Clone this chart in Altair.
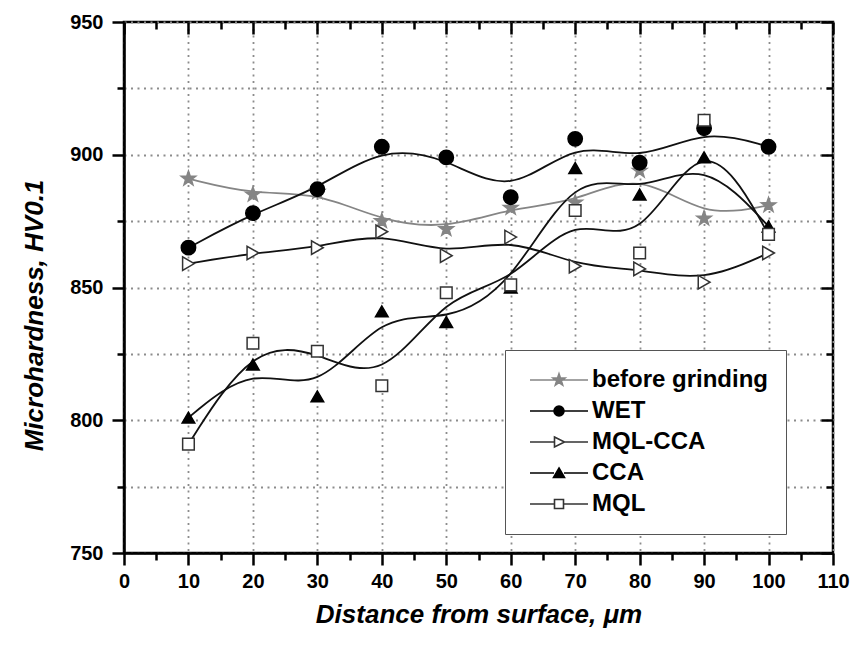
import altair as alt
import pandas as pd

# ---------------- data ----------------
distance = [10, 20, 30, 40, 50, 60, 70, 80, 90, 100]
series_names = ["before grinding", "WET", "MQL-CCA", "CCA", "MQL"]
before_grinding = [891, 885, 886, 875, 872, 880, 882, 894, 876, 881]
wet = [865, 878, 887, 903, 899, 884, 906, 897, 910, 903]
mql_cca = [859, 863, 865, 871, 862, 869, 858, 857, 852, 863]
cca = [801, 821, 809, 841, 837, 850, 895, 885, 899, 873]
mql = [791, 829, 826, 813, 848, 851, 879, 863, 913, 870]

x_ticks = list(range(0, 111, 5))
y_ticks = list(range(750, 951, 25))

values = [before_grinding, wet, mql_cca, cca, mql]
rows = []
for name, vals in zip(series_names, values):
    for d, v in zip(distance, vals):
        rows.append({"series": name, "distance": d, "hardness": v})
df = pd.DataFrame(rows)

# ---------------- styles ----------------
FONT = "Liberation Sans"
line_colors = ["#858585", "#111111", "#111111", "#111111", "#111111"]
fill_colors = ["#858585", "#000000", "#ffffff", "#000000", "#ffffff"]
edge_colors = ["#858585", "#000000", "#333333", "#000000", "#333333"]

STAR = ("M0,-1L0.235,-0.324L0.951,-0.309L0.380,0.124L0.588,0.809L0,0.4"
        "L-0.588,0.809L-0.380,0.124L-0.951,-0.309L-0.235,-0.324Z")
point_shapes = [STAR, "circle", "triangle-right", "triangle-up", "square"]
point_sizes = [230, 135, 140, 150, 115]

LEFT = "M-5.8,0L-1,0"
legend_shapes = [
    "M-5.8,0L5.8,0M0,-1.25L0.29,-0.4L1.19,-0.39L0.47,0.15L0.73,1.01L0,0.5"
    "L-0.73,1.01L-0.47,0.15L-1.19,-0.39L-0.29,-0.4Z",
    LEFT + "M1,0L5.8,0M1,0A1,1,0,1,1,-1,0A1,1,0,1,1,1,0Z",
    "M-5.8,0L-0.9,0M1.1,0L5.8,0M-0.9,-1L1.1,0L-0.9,1Z",
    LEFT + "M1,0L5.8,0M0,-1L1.1,0.9L-1.1,0.9Z",
    "M-5.8,0L-0.9,0M0.9,0L5.8,0M-0.9,-0.9L0.9,-0.9L0.9,0.9L-0.9,0.9Z",
]

xscale = alt.Scale(domain=[0, 110], nice=False, zero=False)
yscale = alt.Scale(domain=[750, 950], nice=False, zero=False)

base = alt.Chart(df)

x_main_axis = alt.Axis(
    values=x_ticks,
    labelExpr="datum.value % 10 === 0 ? datum.label : ''",
    tickSize={"condition": {"test": "datum.value % 10 === 0", "value": 12}, "value": 7},
    gridOpacity={"condition": {"test": "datum.value % 10 === 0", "value": 1}, "value": 0},
    grid=True, labelFlush=False, labelOverlap=False,
    title="Distance from surface, μm", titlePadding=10,
    labelPadding=6,
)
y_main_axis = alt.Axis(
    values=y_ticks,
    labelExpr="datum.value % 50 === 0 ? datum.label : ''",
    tickSize={"condition": {"test": "datum.value % 50 === 0", "value": 12}, "value": 7},
    grid=True, labelOverlap=False, labelFlush=False,
    title="Microhardness, HV0.1", titlePadding=22, titleY=293,
    labelPadding=9,
)

lines = base.mark_line(interpolate="basis", strokeWidth=1.8).encode(
    x=alt.X("distance:Q", scale=xscale, axis=x_main_axis),
    y=alt.Y("hardness:Q", scale=yscale, axis=y_main_axis),
    stroke=alt.Stroke("series:N", sort=series_names,
                      scale=alt.Scale(domain=series_names, range=line_colors),
                      legend=None),
)

points = base.mark_point(filled=True, strokeWidth=1.5, opacity=1).encode(
    x=alt.X("distance:Q", scale=xscale, axis=None),
    y=alt.Y("hardness:Q", scale=yscale, axis=None),
    shape=alt.Shape("series:N", sort=series_names,
                    scale=alt.Scale(domain=series_names, range=point_shapes), legend=None),
    fill=alt.Fill("series:N", sort=series_names,
                  scale=alt.Scale(domain=series_names, range=fill_colors), legend=None),
    stroke=alt.Stroke("series:N", sort=series_names,
                      scale=alt.Scale(domain=series_names, range=edge_colors), legend=None),
    size=alt.Size("series:N", sort=series_names,
                  scale=alt.Scale(domain=series_names, range=point_sizes), legend=None),
)

def frame_axes(xvals, yvals, size):
    return base.mark_point(opacity=0).encode(
        x=alt.X("distance:Q", scale=xscale,
                axis=alt.Axis(orient="top", values=xvals, tickSize=size, offset=-size,
                              labels=False, domain=False, grid=False, title=None)),
        y=alt.Y("hardness:Q", scale=yscale,
                axis=alt.Axis(orient="right", values=yvals, tickSize=size, offset=-size,
                              labels=False, domain=False, grid=False, title=None)),
    )

top_major = frame_axes(list(range(0, 111, 10)), list(range(750, 951, 50)), 12)
top_minor = frame_axes(list(range(5, 110, 10)), list(range(775, 950, 50)), 7)

legend = alt.Legend(
    title=None, orient="none", legendX=381, legendY=328,
    labelFont=FONT, labelFontSize=24, labelFontWeight="bold", labelColor="black",
    labelLimit=400,
    symbolSize=100, symbolStrokeWidth=1.6, symbolOffset=24, labelOffset=21,
    rowPadding=7, padding=18, strokeColor="#555555", fillColor="white",
)
# legend-only layer: no rows survive the filter, entries come from the scale domains
legend_layer = base.transform_filter("datum.distance < 0").mark_point(
    filled=True, opacity=1
).encode(
    x=alt.X("distance:Q", scale=xscale, axis=None),
    y=alt.Y("hardness:Q", scale=yscale, axis=None),
    shape=alt.Shape("series:N", sort=series_names,
                    scale=alt.Scale(domain=series_names, range=legend_shapes), legend=legend),
    fill=alt.Fill("series:N", sort=series_names,
                  scale=alt.Scale(domain=series_names, range=fill_colors), legend=legend),
    stroke=alt.Stroke("series:N", sort=series_names,
                      scale=alt.Scale(domain=series_names, range=edge_colors), legend=legend),
)

chart = (
    alt.layer(lines, points, top_major, top_minor, legend_layer)
    .resolve_scale(shape="independent", fill="independent", stroke="independent",
                   size="independent")
    .resolve_axis(x="independent", y="independent")
    .properties(width=709, height=531,
                padding={"left": 124, "top": 22, "right": 27, "bottom": 98},
                autosize=alt.AutoSizeParams(type="none"))
    .configure_view(stroke="black", strokeWidth=2.5)
    .configure_axis(
        labelFont=FONT, labelFontSize=20, labelFontWeight="bold", labelColor="black",
        titleFont=FONT, titleFontSize=26, titleFontWeight="bold", titleFontStyle="italic",
        titleColor="black",
        domainColor="black", domainWidth=2.5, tickColor="black", tickWidth=2.5,
        gridColor="#8c8c8c", gridDash=[2, 4.5], gridWidth=1.8,
    )
)

chart.save("out.html", embed_options={"renderer": "svg", "actions": False})
